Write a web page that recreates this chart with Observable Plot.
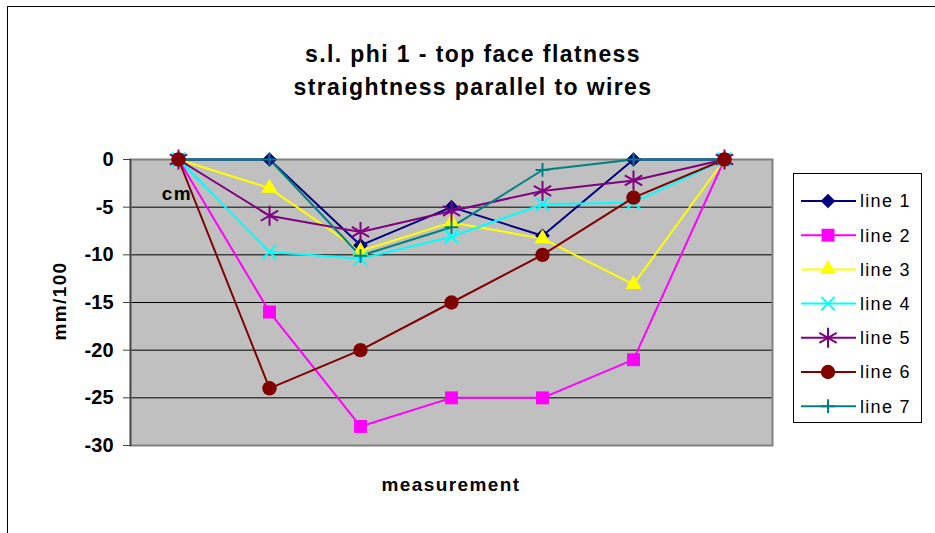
<!DOCTYPE html>
<html>
<head>
<meta charset="utf-8">
<script src="https://cdn.jsdelivr.net/npm/d3@7"></script>
<script src="https://cdn.jsdelivr.net/npm/@observablehq/plot@0.6"></script>
<style>
  body { margin: 0; background: #fff; font-family: "Liberation Sans", Arial, sans-serif; }
  #wrap { position: relative; width: 935px; height: 533px; overflow: hidden; background: #fff; }
  #wrap > svg { position: absolute; left: 0; top: 0; }
  .frame { position: absolute; left: 7px; top: 6px; width: 940px; height: 540px; border-left: 1.5px solid #000; border-top: 1.5px solid #000; }
  .t { position: absolute; transform: translate(-50%, -50%); white-space: nowrap; color: #000; font-weight: bold; }
  .title { font-size: 23px; letter-spacing: 1.4px; }
  .lab { font-size: 19px; letter-spacing: 1.4px; }
  .legend { position: absolute; left: 793px; top: 173px; width: 127px; height: 248px; border: 1px solid #000; background: #fff; }
  .legend svg { position: absolute; left: 0; top: 0; }
</style>
</head>
<body>
<div id="wrap">
  <div class="frame"></div>
</div>
<script>
// ---- data ----
const categories = [1, 2, 3, 4, 5, 6, 7];
const seriesNames = ["line 1", "line 2", "line 3", "line 4", "line 5", "line 6", "line 7"];
const line1 = [0, 0, -9, -5, -8, 0, 0];
const line2 = [0, -16, -28, -25, -25, -21, 0];
const line3 = [0, -3, -9.6, -6.6, -8.3, -13.1, 0];
const line4 = [0, -9.7, -10.4, -8.1, -4.7, -4.5, 0];
const line5 = [0, -5.9, -7.6, -5.4, -3.3, -2.2, 0];
const line6 = [0, -24, -20, -15, -10, -4, 0];
const line7 = [0, 0, -10.1, -7.1, -1.1, 0, 0];
const yTicks = [0, -5, -10, -15, -20, -25, -30];
const titleLines = ["s.l. phi 1 - top face flatness", "straightness parallel to wires"];
const yLabel = "mm/100";
const xLabel = "measurement";
const unitNote = "cm";

const seriesValues = [line1, line2, line3, line4, line5, line6, line7];
const seriesColors = ["#000080", "#FF00FF", "#FFFF00", "#00FFFF", "#800080", "#800000", "#008080"];
const seriesSymbols = ["diamond2", "square", "triangle", "times", "asterisk", "circle", "plus"];
const symbolFilled = [true, true, true, false, false, true, false];
const symbolR = [6.6, 7.3, 6, 6.2, 9.5, 7.2, 4.5];

const tidy = seriesNames.flatMap((name, i) =>
  categories.map((c, j) => ({series: name, x: c, y: seriesValues[i][j]}))
);

const font = '"Liberation Sans", Arial, sans-serif';

const lineMarks = seriesNames.map((name, i) =>
  Plot.line(tidy.filter(d => d.series === name), {x: "x", y: "y", stroke: seriesColors[i], strokeWidth: 2})
);
const dotOrder = [0, 1, 2, 3, 4, 6, 5];
const dotMarks = dotOrder.map(i => {
  const name = seriesNames[i];
  const opts = {x: "x", y: "y", symbol: () => seriesSymbols[i], r: symbolR[i]};
  if (symbolFilled[i]) { opts.fill = seriesColors[i]; opts.stroke = "none"; }
  else { opts.fill = "none"; opts.stroke = seriesColors[i]; opts.strokeWidth = 2; }
  return Plot.dot(tidy.filter(d => d.series === name), opts);
});

const chart = Plot.plot({
  width: 935,
  height: 533,
  marginLeft: 130,
  marginRight: 163,
  marginTop: 159,
  marginBottom: 88,
  x: {type: "point", domain: categories, padding: 0.5, axis: null},
  y: {domain: [-30, 0]},
  symbol: {type: "identity"},
  style: {fontFamily: font, background: "transparent", color: "#000", overflow: "visible"},
  marks: [
    Plot.frame({fill: "#C0C0C0"}),
    Plot.gridY(yTicks.filter(d => d !== 0 && d !== -30), {stroke: "#000", strokeOpacity: 1, strokeWidth: 1}),
    Plot.frame({stroke: "#808080", strokeWidth: 2}),
    Plot.frame({anchor: "left", stroke: "#404040", strokeWidth: 1.5}),
    Plot.axisY(yTicks, {tickSize: 7, tickFormat: () => "", label: null, stroke: "#404040"}),
    Plot.text(yTicks, {y: d => d, text: d => String(d), frameAnchor: "left", dx: -17, textAnchor: "end",
      fontSize: 20, fontWeight: "bold", fill: "#000"}),
    ...lineMarks,
    ...dotMarks
  ]
});

const wrap = document.getElementById("wrap");
wrap.appendChild(chart);

function addText(txt, cls, x, y, rotate) {
  const el = document.createElement("div");
  el.className = "t " + cls;
  el.textContent = txt;
  el.style.left = x + "px";
  el.style.top = y + "px";
  if (rotate) el.style.transform = "translate(-50%, -50%) rotate(-90deg)";
  wrap.appendChild(el);
}
addText(titleLines[0], "title", 473, 54);
addText(titleLines[1], "title", 473, 87);
addText(yLabel, "lab", 60, 301, true);
addText(xLabel, "lab", 451, 485);
addText(unitNote, "lab", 177, 194);

// legend
const leg = document.createElement("div");
leg.className = "legend";
const lsvg = d3.create("svg").attr("width", 127).attr("height", 248);
const symMap = {diamond2: d3.symbolDiamond2, square: d3.symbolSquare, triangle: d3.symbolTriangle,
                times: d3.symbolTimes, asterisk: d3.symbolAsterisk, circle: d3.symbolCircle, plus: d3.symbolPlus};
seriesNames.forEach((name, i) => {
  const cy = 27 + i * 34.2;
  const g = lsvg.append("g");
  g.append("line").attr("x1", 7).attr("x2", 62).attr("y1", cy).attr("y2", cy)
    .attr("stroke", seriesColors[i]).attr("stroke-width", 2);
  const size = Math.PI * symbolR[i] * symbolR[i];
  const p = g.append("path").attr("d", d3.symbol(symMap[seriesSymbols[i]], size)())
    .attr("transform", `translate(34,${cy})`);
  if (symbolFilled[i]) p.attr("fill", seriesColors[i]);
  else p.attr("fill", "none").attr("stroke", seriesColors[i]).attr("stroke-width", 2);
  g.append("text").attr("x", 66).attr("y", cy).attr("dy", "0.35em")
    .attr("font-family", font).attr("font-size", 18).attr("letter-spacing", "1.3px")
    .attr("fill", "#000").text(name);
});
leg.appendChild(lsvg.node());
wrap.appendChild(leg);
</script>
</body>
</html>
